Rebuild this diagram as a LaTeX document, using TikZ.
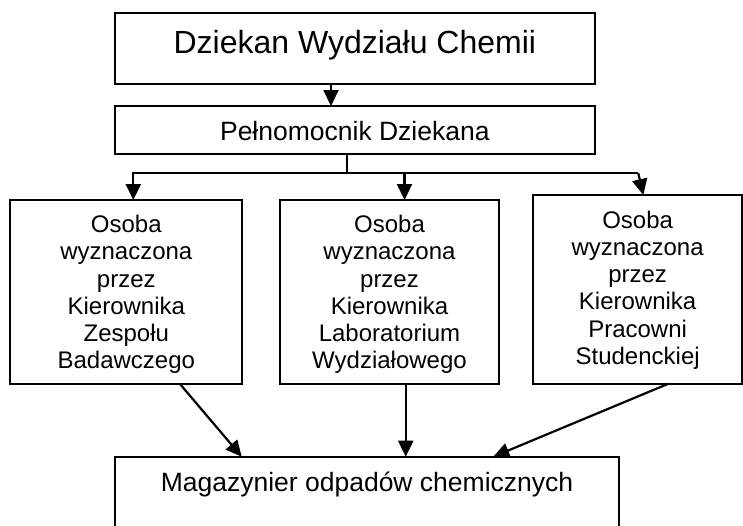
\documentclass[tikz,border=0pt]{standalone}
\usepackage{fontspec}
\setmainfont{Liberation Sans}
\usetikzlibrary{arrows.meta}
\begin{document}
\begin{tikzpicture}[x=1pt,y=-1pt,
  box/.style={draw, line width=2.2pt, outer sep=0pt, inner sep=0pt},
  txt/.style={inner sep=0pt, align=center, font=\fontsize{24}{27.2}\selectfont},
  bigtxt/.style={inner sep=0pt, font=\fontsize{32}{38}\selectfont},
  midtxt/.style={inner sep=0pt, font=\fontsize{26.5}{31}\selectfont},
  ln/.style={line width=2.2pt},
  arr/.style={line width=2.2pt, -{Triangle[length=16pt,width=15pt]}}]
\useasboundingbox (0,0) rectangle (743,525);
\clip (0,0) rectangle (743,525);

% boxes
\node[box, minimum width=480.3pt, minimum height=71.6pt] (dz) at (354.85,48.5) {};
\node[box, minimum width=480.3pt, minimum height=48.3pt] (pd) at (354.85,130.15) {};
\node[box, minimum width=232pt, minimum height=184pt] (lb) at (126.3,292) {};
\node[box, minimum width=219pt, minimum height=184pt] (mb) at (389.5,292) {};
\node[box, minimum width=208.7pt, minimum height=189pt] (rb) at (637.65,289.5) {};
\node[box, minimum width=504pt, minimum height=90pt] (mg) at (367,501.7) {};

% texts
\node[bigtxt, anchor=base] (dzt) at (354.85,53.3) {Dziekan Wydziału Chemii};
\node[midtxt, anchor=base] (pdt) at (354.85,140.7) {Pełnomocnik Dziekana};
\node[txt, anchor=north] (lbt) at (126.3,215.1) {Osoba\\wyznaczona\\przez\\Kierownika\\Zespołu\\Badawczego};
\node[txt, anchor=north] (mbt) at (389.5,215.1) {Osoba\\wyznaczona\\przez\\Kierownika\\Laboratorium\\Wydziałowego};
\node[txt, anchor=north] (rbt) at (637.65,210.7) {Osoba\\wyznaczona\\przez\\Kierownika\\Pracowni\\Studenckiej};
\node[midtxt, anchor=base] (mgt) at (367,491) {Magazynier odpadów chemicznych};

% helper coordinates
\coordinate (a1) at (331,0);
\coordinate (st) at (346.7,173.3);
\coordinate (xl) at (133.3,0);
\coordinate (xm) at (404.5,173.3);
\coordinate (xr) at (638.3,173.3);
\coordinate (xrt) at (643.3,0);

% connectors
\draw[arr] (dz.south -| a1) -- (pd.north -| a1);
\draw[ln] (pd.south -| st) -- (st);
\draw[arr] (st) -| (lb.north -| xl);
\draw[ln] (st) -- (xr);
\draw[arr] (xr) -- (rb.north -| xrt);
\draw[arr] (xm) -- (mb.north -| xm);

\coordinate (b1) at (180,0);
\coordinate (b1e) at (241.7,0);
\coordinate (b2) at (405.7,0);
\coordinate (b3) at (667.7,0);
\coordinate (b3e) at (493.3,0);
\draw[arr] (lb.south -| b1) -- (mg.north -| b1e);
\draw[arr] (mb.south -| b2) -- (mg.north -| b2);
\draw[arr] (rb.south -| b3) -- (mg.north -| b3e);
\end{tikzpicture}
\end{document}
